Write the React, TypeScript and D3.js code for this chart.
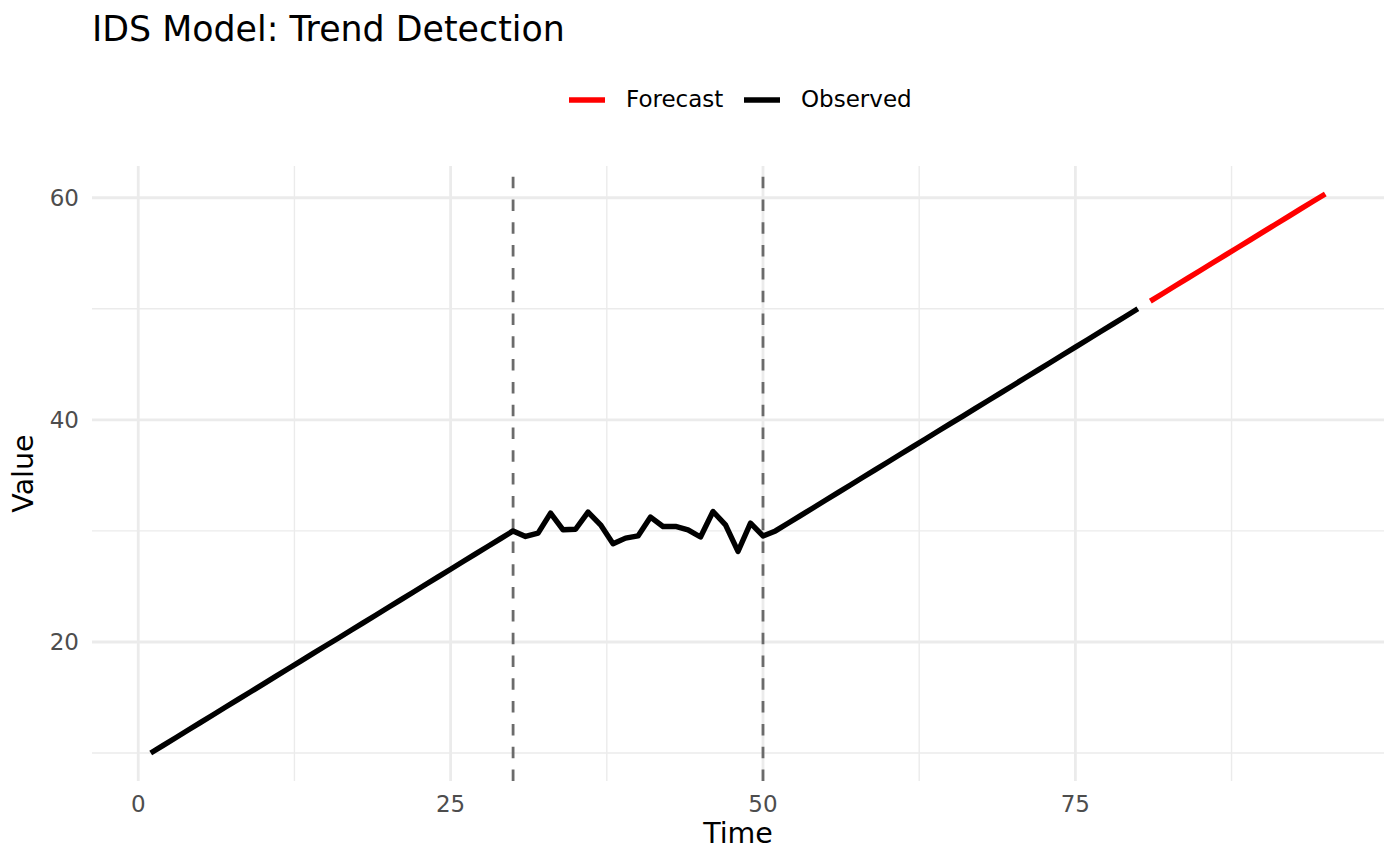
import React from "react";
import * as d3 from "d3";

const observedTime: number[] = d3.range(1, 81);
const observedValue: number[] = [
  // t = 1..30 linear trend
  10, 10.69, 11.38, 12.07, 12.76, 13.45, 14.14, 14.83, 15.52, 16.21,
  16.9, 17.59, 18.28, 18.97, 19.66, 20.34, 21.03, 21.72, 22.41, 23.1,
  23.79, 24.48, 25.17, 25.86, 26.55, 27.24, 27.93, 28.62, 29.31, 30,
  // t = 31..50 flat noisy
  29.5, 29.8, 31.6, 30.1, 30.15, 31.7, 30.55, 28.85, 29.35, 29.55,
  31.25, 30.4, 30.4, 30.1, 29.45, 31.75, 30.55, 28.15, 30.7, 29.55,
  // t = 51..80 linear trend
  30, 30.69, 31.38, 32.07, 32.76, 33.45, 34.14, 34.83, 35.52, 36.21,
  36.9, 37.59, 38.28, 38.97, 39.66, 40.34, 41.03, 41.72, 42.41, 43.1,
  43.79, 44.48, 45.17, 45.86, 46.55, 47.24, 47.93, 48.62, 49.31, 50,
];
const forecastTime: number[] = d3.range(81, 96);
const forecastValue: number[] = [
  50.69, 51.38, 52.07, 52.76, 53.45, 54.14, 54.83, 55.52, 56.21, 56.9,
  57.59, 58.28, 58.97, 59.66, 60.34,
];
const changePoints: number[] = [30, 50];
const xTicks: number[] = [0, 25, 50, 75];
const xMinor: number[] = [12.5, 37.5, 62.5, 87.5];
const yTicks: number[] = [20, 40, 60];
const yMinor: number[] = [10, 30, 50];
const legendItems = [
  { label: "Forecast", color: "#FF0000" },
  { label: "Observed", color: "#000000" },
];

const W = 1400;
const H = 865;
const left = 92;
const right = 1384;
const top = 166;
const bottom = 781;
const font = "'DejaVu Sans', sans-serif";

export default function App() {
  const allT = [...observedTime, ...forecastTime];
  const allV = [...observedValue, ...forecastValue];
  const [tMin, tMax] = d3.extent(allT) as [number, number];
  const [vMin, vMax] = d3.extent(allV) as [number, number];
  const tPad = (tMax - tMin) * 0.05;
  const vPad = (vMax - vMin) * 0.05;
  const x = d3.scaleLinear().domain([tMin - tPad, tMax + tPad]).range([left, right]);
  const y = d3.scaleLinear().domain([vMin - vPad, vMax + vPad]).range([bottom, top]);

  const line = d3
    .line<[number, number]>()
    .x((d) => x(d[0]))
    .y((d) => y(d[1]));
  const obsPath = line(observedTime.map((t, i) => [t, observedValue[i]]));
  const fcPath = line(forecastTime.map((t, i) => [t, forecastValue[i]]));

  return (
    <svg width={W} height={H} style={{ display: "block", position: "absolute", left: 0, top: 0, background: "#fff" }}>
      <rect x={0} y={0} width={W} height={H} fill="#fff" />
      {/* minor grid */}
      {xMinor.map((v) => (
        <line key={"xm" + v} x1={x(v)} x2={x(v)} y1={top} y2={bottom} stroke="#EBEBEB" strokeWidth={1.4} />
      ))}
      {yMinor.map((v) => (
        <line key={"ym" + v} x1={left} x2={right} y1={y(v)} y2={y(v)} stroke="#EBEBEB" strokeWidth={1.4} />
      ))}
      {/* major grid */}
      {xTicks.map((v) => (
        <line key={"xM" + v} x1={x(v)} x2={x(v)} y1={top} y2={bottom} stroke="#EBEBEB" strokeWidth={2.8} />
      ))}
      {yTicks.map((v) => (
        <line key={"yM" + v} x1={left} x2={right} y1={y(v)} y2={y(v)} stroke="#EBEBEB" strokeWidth={2.8} />
      ))}
      {/* change points (drawn bottom to top so dashes start at the panel bottom) */}
      {changePoints.map((v) => (
        <line
          key={"cp" + v}
          x1={x(v)}
          x2={x(v)}
          y1={bottom}
          y2={top}
          stroke="#6B6B6B"
          strokeWidth={2.8}
          strokeDasharray="11.5 11.3"
        />
      ))}
      <path d={obsPath ?? ""} fill="none" stroke="#000" strokeWidth={5.4} strokeLinejoin="round" strokeLinecap="butt" />
      <path d={fcPath ?? ""} fill="none" stroke="#FF0000" strokeWidth={5.4} strokeLinejoin="round" strokeLinecap="butt" />
      {/* tick labels */}
      {xTicks.map((v) => (
        <text key={"xl" + v} x={x(v)} y={812} textAnchor="middle" fontFamily={font} fontSize={23} fill="#4D4D4D">
          {v}
        </text>
      ))}
      {yTicks.map((v) => (
        <text key={"yl" + v} x={79} y={y(v) + 8.5} textAnchor="end" fontFamily={font} fontSize={23} fill="#4D4D4D">
          {v}
        </text>
      ))}
      {/* axis titles */}
      <text x={(left + right) / 2} y={843} textAnchor="middle" fontFamily={font} fontSize={28.5} fill="#000">
        Time
      </text>
      <text
        transform={`translate(33, ${(top + bottom) / 2}) rotate(-90)`}
        textAnchor="middle"
        fontFamily={font}
        fontSize={28.5}
        fill="#000"
      >
        Value
      </text>
      {/* title */}
      <text x={92} y={41} fontFamily={font} fontSize={34.8} fill="#000">
        IDS Model: Trend Detection
      </text>
      {/* legend */}
      {legendItems.map((it, i) => {
        const lx = i === 0 ? 569 : 744;
        return (
          <g key={it.label}>
            <line x1={lx} x2={lx + 36} y1={100} y2={100} stroke={it.color} strokeWidth={5.4} />
            <text x={lx + 57} y={107.3} fontFamily={font} fontSize={23} fill="#000">
              {it.label}
            </text>
          </g>
        );
      })}
    </svg>
  );
}
